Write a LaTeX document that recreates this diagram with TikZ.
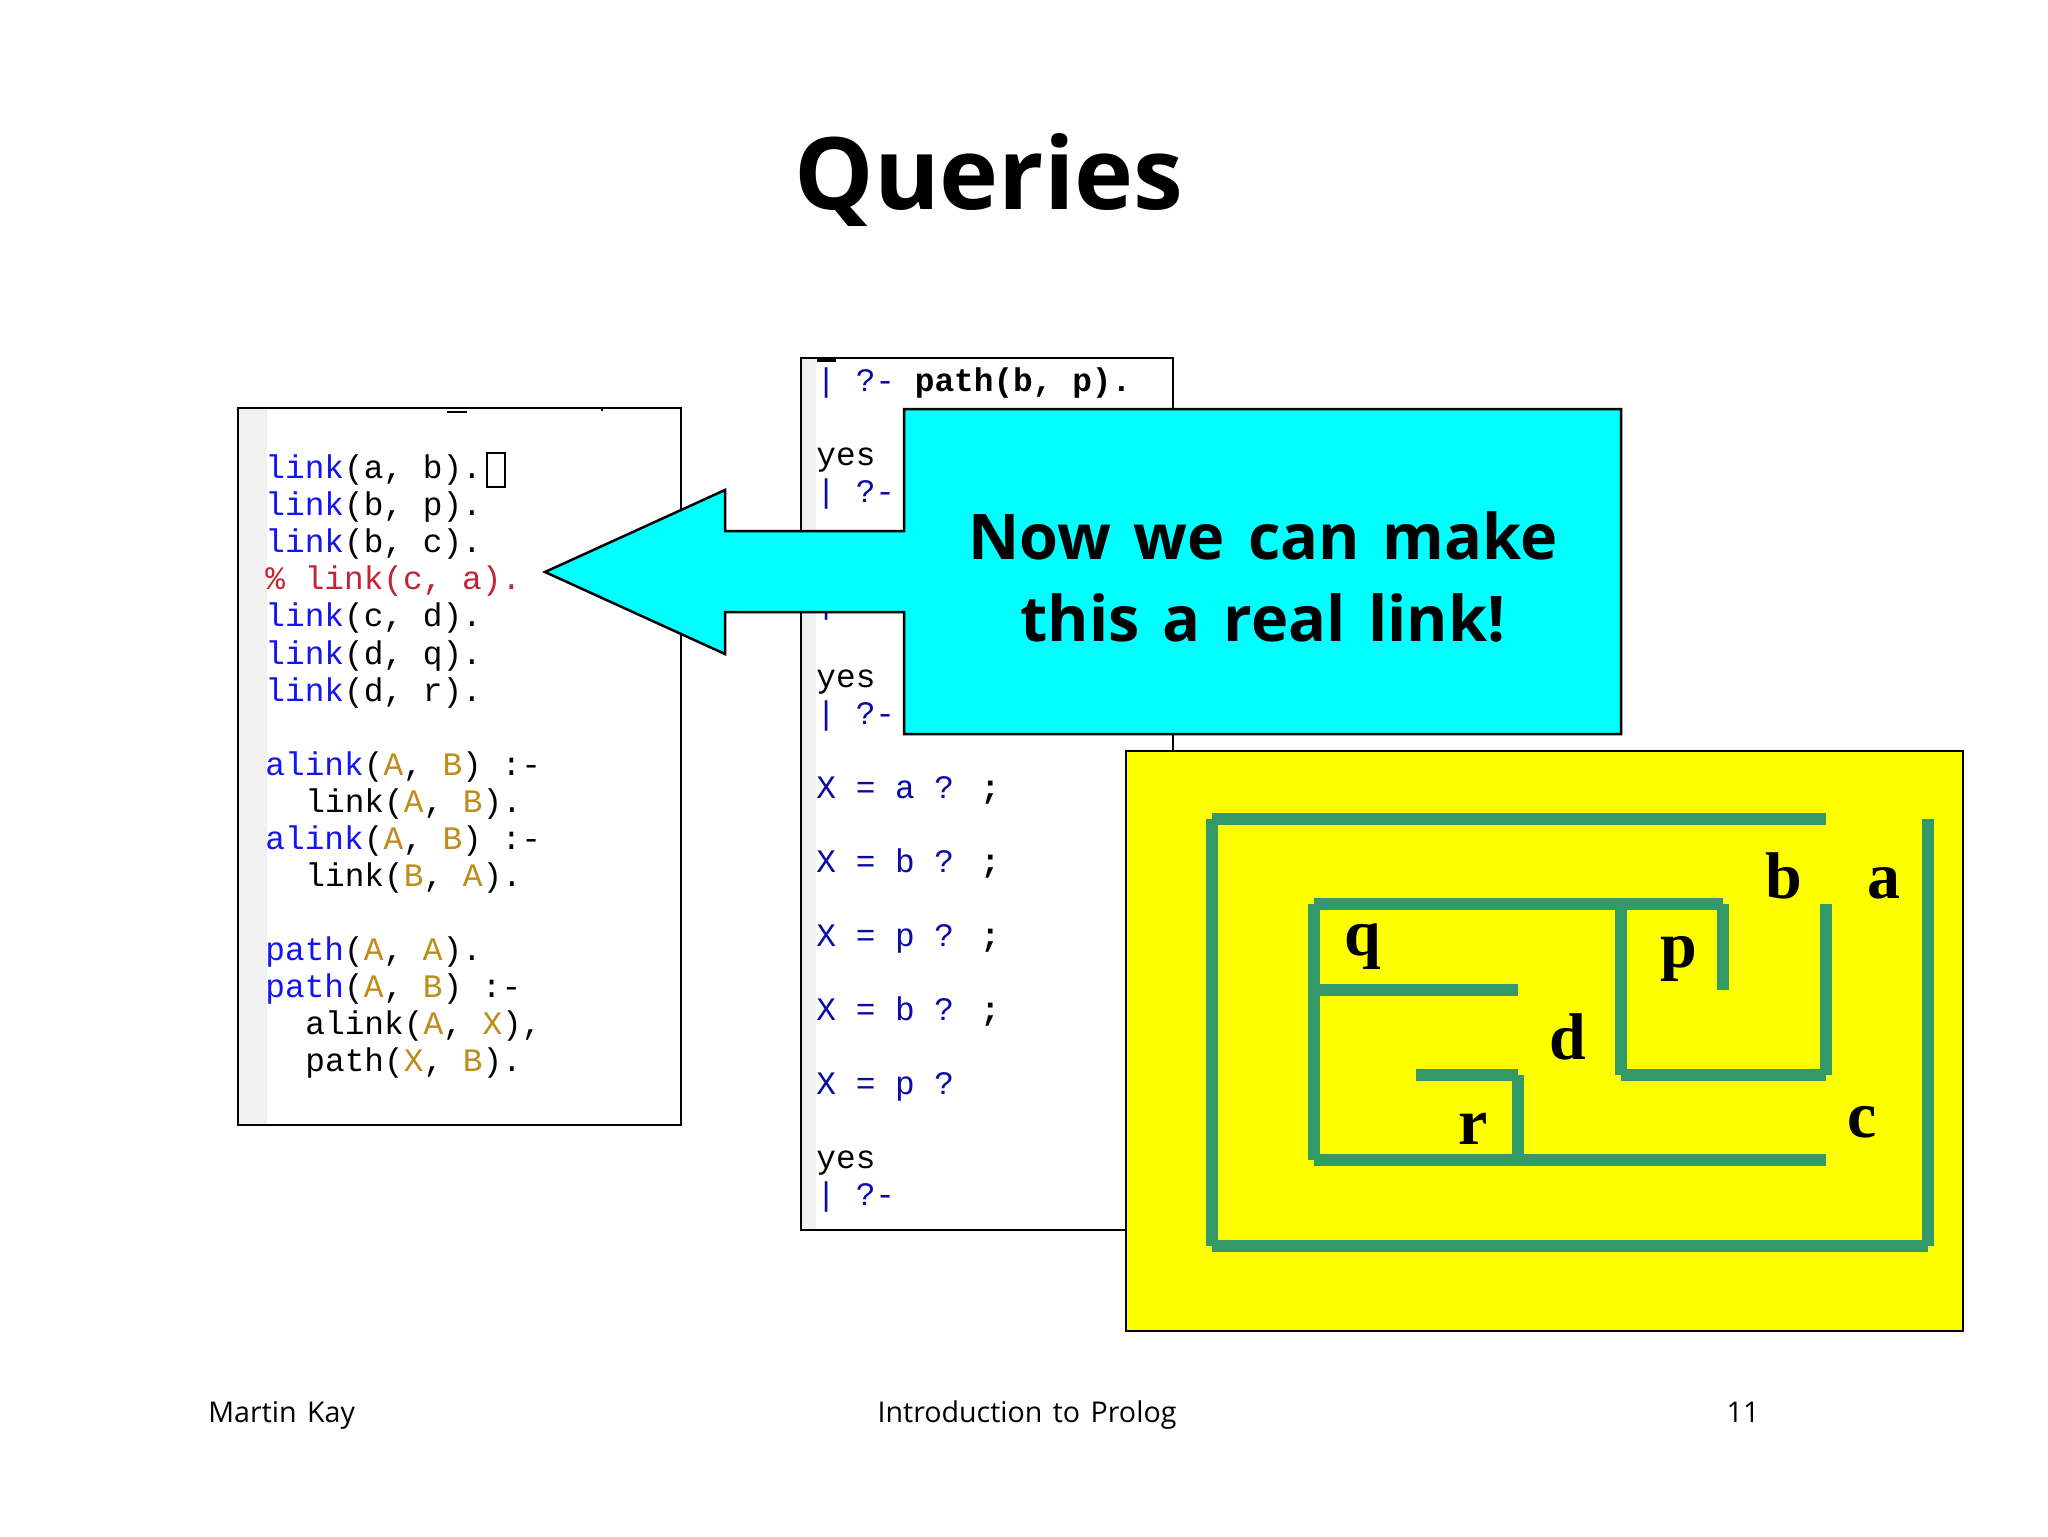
\documentclass[tikz,border=0pt]{standalone}
\usepackage{fontspec}
\setmainfont{Liberation Serif}
\newfontfamily\comicfont[WordSpace=1.4]{Open Sans}
\newfontfamily\codefont{Liberation Mono}
\definecolor{kwblue}{RGB}{20,20,240}
\definecolor{vargold}{RGB}{190,140,25}
\definecolor{cmtred}{RGB}{195,35,50}
\definecolor{navy}{RGB}{10,10,165}
\definecolor{mazegreen}{RGB}{51,153,102}
\definecolor{stripgray}{RGB}{240,240,240}
\definecolor{calloutcyan}{RGB}{0,255,255}
\definecolor{mapyellow}{RGB}{255,255,0}
\newcommand{\kw}[1]{\textcolor{kwblue}{#1}}
\newcommand{\vr}[1]{\textcolor{vargold}{#1}}
\newcommand{\nv}[1]{\textcolor{navy}{#1}}
\tikzset{
	panel/.style={draw=black, fill=white, line width=1pt},
	strip/.style={fill=stripgray},
	code/.style={anchor=base west, inner sep=0pt, font=\codefont\fontsize{16.4}{18}\selectfont},
	wall/.style={draw=mazegreen, line width=6pt},
	room/.style={anchor=base, inner sep=0pt, font=\bfseries\fontsize{33}{36}\selectfont},
	foot/.style={anchor=base, inner sep=0pt, font=\comicfont\fontsize{14.3}{16}\selectfont},
	say/.style={anchor=base, inner sep=0pt, font=\comicfont\bfseries\fontsize{31.5}{36}\selectfont},
}
\begin{document}
\begin{tikzpicture}[x=.5pt, y=-.5pt]
	\useasboundingbox (0,0) rectangle (2048,1536);
	\fill[white] (0,0) rectangle (2048,1536);
	\node[anchor=base, inner sep=0pt, font=\comicfont\bfseries\fontsize{50}{56}\selectfont] (title) at (989,209) {Queries};

	\draw[panel] (238,408) rectangle (681,1125);
	\fill[strip] (239,409) rectangle (267,1124);
	\fill (447,411) rectangle (467,413);
	\fill (601,409) rectangle (603,411);
	\node[code] (lk1) at (265,478) {\kw{link}(a, b).};
	\node[code] (lk2) at (265,515) {\kw{link}(b, p).};
	\node[code] (lk3) at (265,552) {\kw{link}(b, c).};
	\node[code, text=cmtred] (lk4) at (265,589) {\% link(c, a).};
	\node[code] (lk5) at (265,626) {\kw{link}(c, d).};
	\node[code] (lk6) at (265,664) {\kw{link}(d, q).};
	\node[code] (lk7) at (265,701) {\kw{link}(d, r).};
	\node[code] (al1) at (265,775) {\kw{alink}(\vr{A}, \vr{B}) :-};
	\node[code] (al2) at (305,812) {link(\vr{A}, \vr{B}).};
	\node[code] (al3) at (265,849) {\kw{alink}(\vr{A}, \vr{B}) :-};
	\node[code] (al4) at (305,886) {link(\vr{B}, \vr{A}).};
	\node[code] (pt1) at (265,960) {\kw{path}(\vr{A}, \vr{A}).};
	\node[code] (pt2) at (265,997) {\kw{path}(\vr{A}, \vr{B}) :-};
	\node[code] (pt3) at (305,1034) {alink(\vr{A}, \vr{X}),};
	\node[code] (pt4) at (305,1071) {path(\vr{X}, \vr{B}).};
	\draw[line width=1.2pt] (487,453) rectangle (505,487);

	\draw[panel] (801,358) rectangle (1173,1230);
	\fill[strip] (802,359) rectangle (816,1229);
	\fill (817,358) rectangle (836,362);
	\node[code] (qy1) at (816,391) {\nv{| ?-} \textbf{path(b, p).}};
	\node[code] (qy2) at (816,465) {yes};
	\node[code] (qy3) at (816,502) {\nv{| ?-}};
	\node[code] (qy4) at (816,613) {\nv{| ?-}};
	\node[code] (qy5) at (816,687) {yes};
	\node[code] (qy6) at (816,724) {\nv{| ?-}};
	\node[code] (ans1) at (816,798) {\nv{X = a ?} \textbf{;}};
	\node[code] (ans2) at (816,872) {\nv{X = b ?} \textbf{;}};
	\node[code] (ans3) at (816,946) {\nv{X = p ?} \textbf{;}};
	\node[code] (ans4) at (816,1020) {\nv{X = b ?} \textbf{;}};
	\node[code] (ans5) at (816,1094) {\nv{X = p ?}};
	\node[code] (qy7) at (816,1168) {yes};
	\node[code] (qy8) at (816,1205) {\nv{| ?-}};

	\draw[fill=calloutcyan, line width=1.25pt] (904,409) -- (1621,409) -- (1621,734) -- (904,734) -- (904,612) -- (725,612) -- (725,654) -- (545,572) -- (725,490) -- (725,531) -- (904,531) -- cycle;
	\node[say] (say1) at (1263,559) {Now we can make};
	\node[say] (say2) at (1263,641) {this a real link!};

	\draw[fill=mapyellow, line width=1.25pt] (1126,751) rectangle (1963,1331);
	\draw[wall] (1212,819) -- (1826,819);
	\draw[wall] (1212,819) -- (1212,1246);
	\draw[wall] (1212,1246) -- (1928,1246);
	\draw[wall] (1928,819) -- (1928,1246);
	\draw[wall] (1314,904) -- (1723,904);
	\draw[wall] (1314,904) -- (1314,1160);
	\draw[wall] (1314,1160) -- (1826,1160);
	\draw[wall] (1723,904) -- (1723,990);
	\draw[wall] (1621,904) -- (1621,1075);
	\draw[wall] (1621,1075) -- (1826,1075);
	\draw[wall] (1826,904) -- (1826,1075);
	\draw[wall] (1314,990) -- (1518,990);
	\draw[wall] (1416,1075) -- (1518,1075);
	\draw[wall] (1518,1075) -- (1518,1160);
	\node[room] (roomb) at (1784,898) {b};
	\node[room] (rooma) at (1884,898) {a};
	\node[room] (roomq) at (1363,955) {q};
	\node[room] (roomp) at (1679,967) {p};
	\node[room] (roomd) at (1568,1059) {d};
	\node[room] (roomr) at (1473,1144) {r};
	\node[room] (roomc) at (1862,1137) {c};

	\node[foot, anchor=base west] (author) at (208,1422) {Martin Kay};
	\node[foot] (course) at (1027,1422) {Introduction to Prolog};
	\node[foot] (pagenum) at (1743,1422) {11};
\end{tikzpicture}
\end{document}
